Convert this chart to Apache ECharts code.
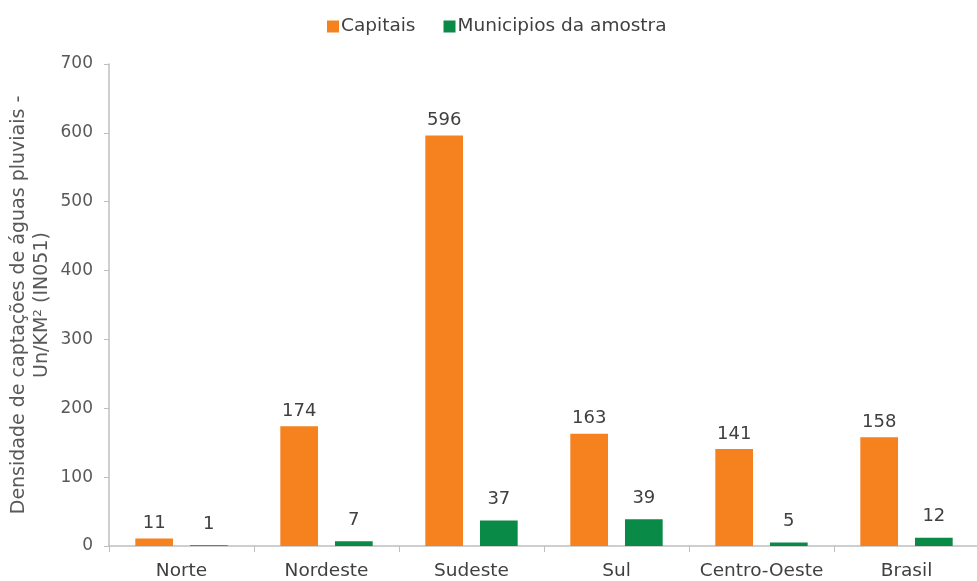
<!DOCTYPE html>
<html><head><meta charset="utf-8">
<script src="https://cdn.jsdelivr.net/npm/echarts@6/dist/echarts.min.js"></script>
<style>html,body{margin:0;padding:0;background:#fff}#c{width:977px;height:581px}</style>
</head><body><div id="c"></div>
<script>
const categories = ['Norte','Nordeste','Sudeste','Sul','Centro-Oeste','Brasil'];
const capitais = [11,174,596,163,141,158];
const municipios = [1,7,37,39,5,12];
const yTicks = {min:0,max:700,interval:100};
const font = '"DejaVu Sans", sans-serif';
const chart = echarts.init(document.getElementById('c'));
chart.setOption({
  animation:false,
  textStyle:{fontFamily:font},
  legend:{top:12,left:322,itemWidth:12,itemHeight:12,itemGap:28,icon:'rect',
    textStyle:{fontSize:18.5,color:'#404040',fontFamily:font,padding:[0,0,0,-3]},
    data:['Capitais','Municipios da amostra']},
  grid:{left:109,right:-2,top:64,bottom:35,containLabel:false,outerBoundsMode:'none'},
  xAxis:{type:'category',data:categories,
    axisLine:{lineStyle:{color:'#bfbfbf',width:1.5}},
    axisTick:{show:true,length:6,lineStyle:{color:'#bfbfbf'}},
    axisLabel:{fontSize:18.5,color:'#404040',margin:16,interval:0,hideOverlap:false,fontFamily:font}},
  yAxis:{type:'value',min:yTicks.min,max:yTicks.max,interval:yTicks.interval,
    name:'Densidade de captações de águas pluviais -\nUn/KM² (IN051)',
    nameLocation:'middle',nameGap:55,nameRotate:90,nameMoveOverlap:false,
    nameTextStyle:{fontSize:19,color:'#595959',lineHeight:23,fontFamily:font},
    axisLine:{show:true,lineStyle:{color:'#bfbfbf',width:1.5}},
    axisTick:{show:true,length:5,lineStyle:{color:'#bfbfbf'}},
    splitLine:{show:false},
    axisLabel:{fontSize:17,color:'#595959',margin:16,fontFamily:font}},
  series:[
    {name:'Capitais',type:'bar',data:capitais,barWidth:'26%',barGap:'45%',
      itemStyle:{color:'#f5821f'},
      label:{show:true,position:'top',fontSize:18,color:'#404040',distance:6,fontFamily:font}},
    {name:'Municipios da amostra',type:'bar',data:municipios,barWidth:'26%',
      itemStyle:{color:'#0a8a47'},
      label:{show:true,position:'top',fontSize:18,color:'#404040',distance:12,fontFamily:font}}
  ]
});
</script></body></html>
